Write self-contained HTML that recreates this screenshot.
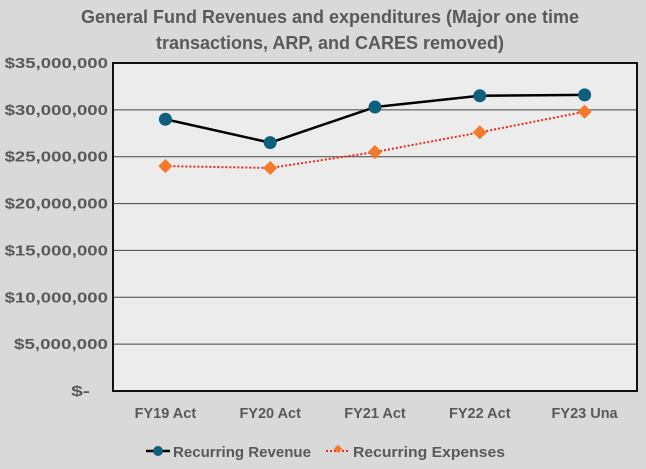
<!DOCTYPE html>
<html><head><meta charset="utf-8"><style>
body{margin:0;background:#d9d9d9;}
svg{display:block;font-family:"Liberation Sans",sans-serif;font-weight:bold;}
</style></head><body>
<svg width="646" height="469">
<rect width="646" height="469" fill="#d9d9d9"/>
<text x="330" y="23" text-anchor="middle" font-size="18" fill="#595959" textLength="498" lengthAdjust="spacingAndGlyphs">General Fund Revenues and expenditures (Major one time</text>
<text x="330" y="49" text-anchor="middle" font-size="18" fill="#595959" textLength="348" lengthAdjust="spacingAndGlyphs">transactions, ARP, and CARES removed)</text>
<rect x="113" y="63" width="524" height="328" fill="#ececec"/>
<g id="grid"></g>
<g id="marks"></g>
<rect x="113" y="63" width="524" height="328" fill="none" stroke="#111" stroke-width="2"/>
<g>
<line x1="146" y1="451" x2="170" y2="451" stroke="#000" stroke-width="2.5"/>
<circle cx="158" cy="451" r="5" fill="#0e5e7d"/>
<text x="173" y="457" font-size="15" fill="#595959" textLength="138" lengthAdjust="spacingAndGlyphs">Recurring Revenue</text>
<line x1="326" y1="451" x2="350" y2="451" stroke="#e82a1a" stroke-width="2" stroke-dasharray="2,2"/>
<rect x="333.5" y="446.5" width="6" height="6" fill="#f47a2b" transform="rotate(45 338 451)"/>
<text x="353" y="457" font-size="15" fill="#595959" textLength="152" lengthAdjust="spacingAndGlyphs">Recurring Expenses</text>
</g>
</svg>
<script>
const categories=["FY19 Act","FY20 Act","FY21 Act","FY22 Act","FY23 Una"];
const revenue=[29000000,26500000,30300000,31500000,31600000];
const expenses=[24000000,23800000,25500000,27600000,29800000];
const ticks=[0,5000000,10000000,15000000,20000000,25000000,30000000,35000000];
const tickLabels=["$-","$5,000,000","$10,000,000","$15,000,000","$20,000,000","$25,000,000","$30,000,000","$35,000,000"];
const NS="http://www.w3.org/2000/svg";
const X0=113,W=524,Y0=391,H=328,MAX=35000000;
const xs=i=>X0+W/categories.length*(i+0.5);
const ys=v=>Y0-v/MAX*H;
const svg=document.querySelector('svg'),grid=document.getElementById('grid'),marks=document.getElementById('marks');
function mk(tag,attrs,parent){const e=document.createElementNS(NS,tag);for(const k in attrs)e.setAttribute(k,attrs[k]);parent.appendChild(e);return e;}
ticks.forEach((t,i)=>{
  const y=ys(t);
  if(t>0&&t<MAX){const l=mk('line',{x1:X0,x2:X0+W,y1:y,y2:y,stroke:'#444','stroke-width':1},grid);
  
  }
  const lab=tickLabels[i];
  const tx=mk('text',{x:t===0?90:108,y:y+5,'text-anchor':'end','font-size':15,fill:'#595959',textLength:lab.length*9.4,lengthAdjust:'spacingAndGlyphs'},svg);
  tx.textContent=lab;
  
  
});
categories.forEach((c,i)=>{
  const tx=mk('text',{x:xs(i),y:418,'text-anchor':'middle','font-size':14.5,fill:'#595959'},svg);
  tx.textContent=c;
  
  
});
const ep=mk('polyline',{points:expenses.map((v,i)=>xs(i)+','+ys(v)).join(' '),fill:'none',stroke:'#e82a1a','stroke-width':2,'stroke-dasharray':'2,2'},marks);


const rp=mk('polyline',{points:revenue.map((v,i)=>xs(i)+','+ys(v)).join(' '),fill:'none',stroke:'#000','stroke-width':2.5},marks);


expenses.forEach((v,i)=>{
  const x=xs(i),y=ys(v);
  const r=mk('rect',{x:x-5,y:y-5,width:10,height:10,fill:'#f47a2b',transform:`rotate(45 ${x} ${y})`},marks);
  
  
});
revenue.forEach((v,i)=>{
  const c=mk('circle',{cx:xs(i),cy:ys(v),r:6.5,fill:'#0e5e7d'},marks);
  
  
});
</script>
</body></html>
